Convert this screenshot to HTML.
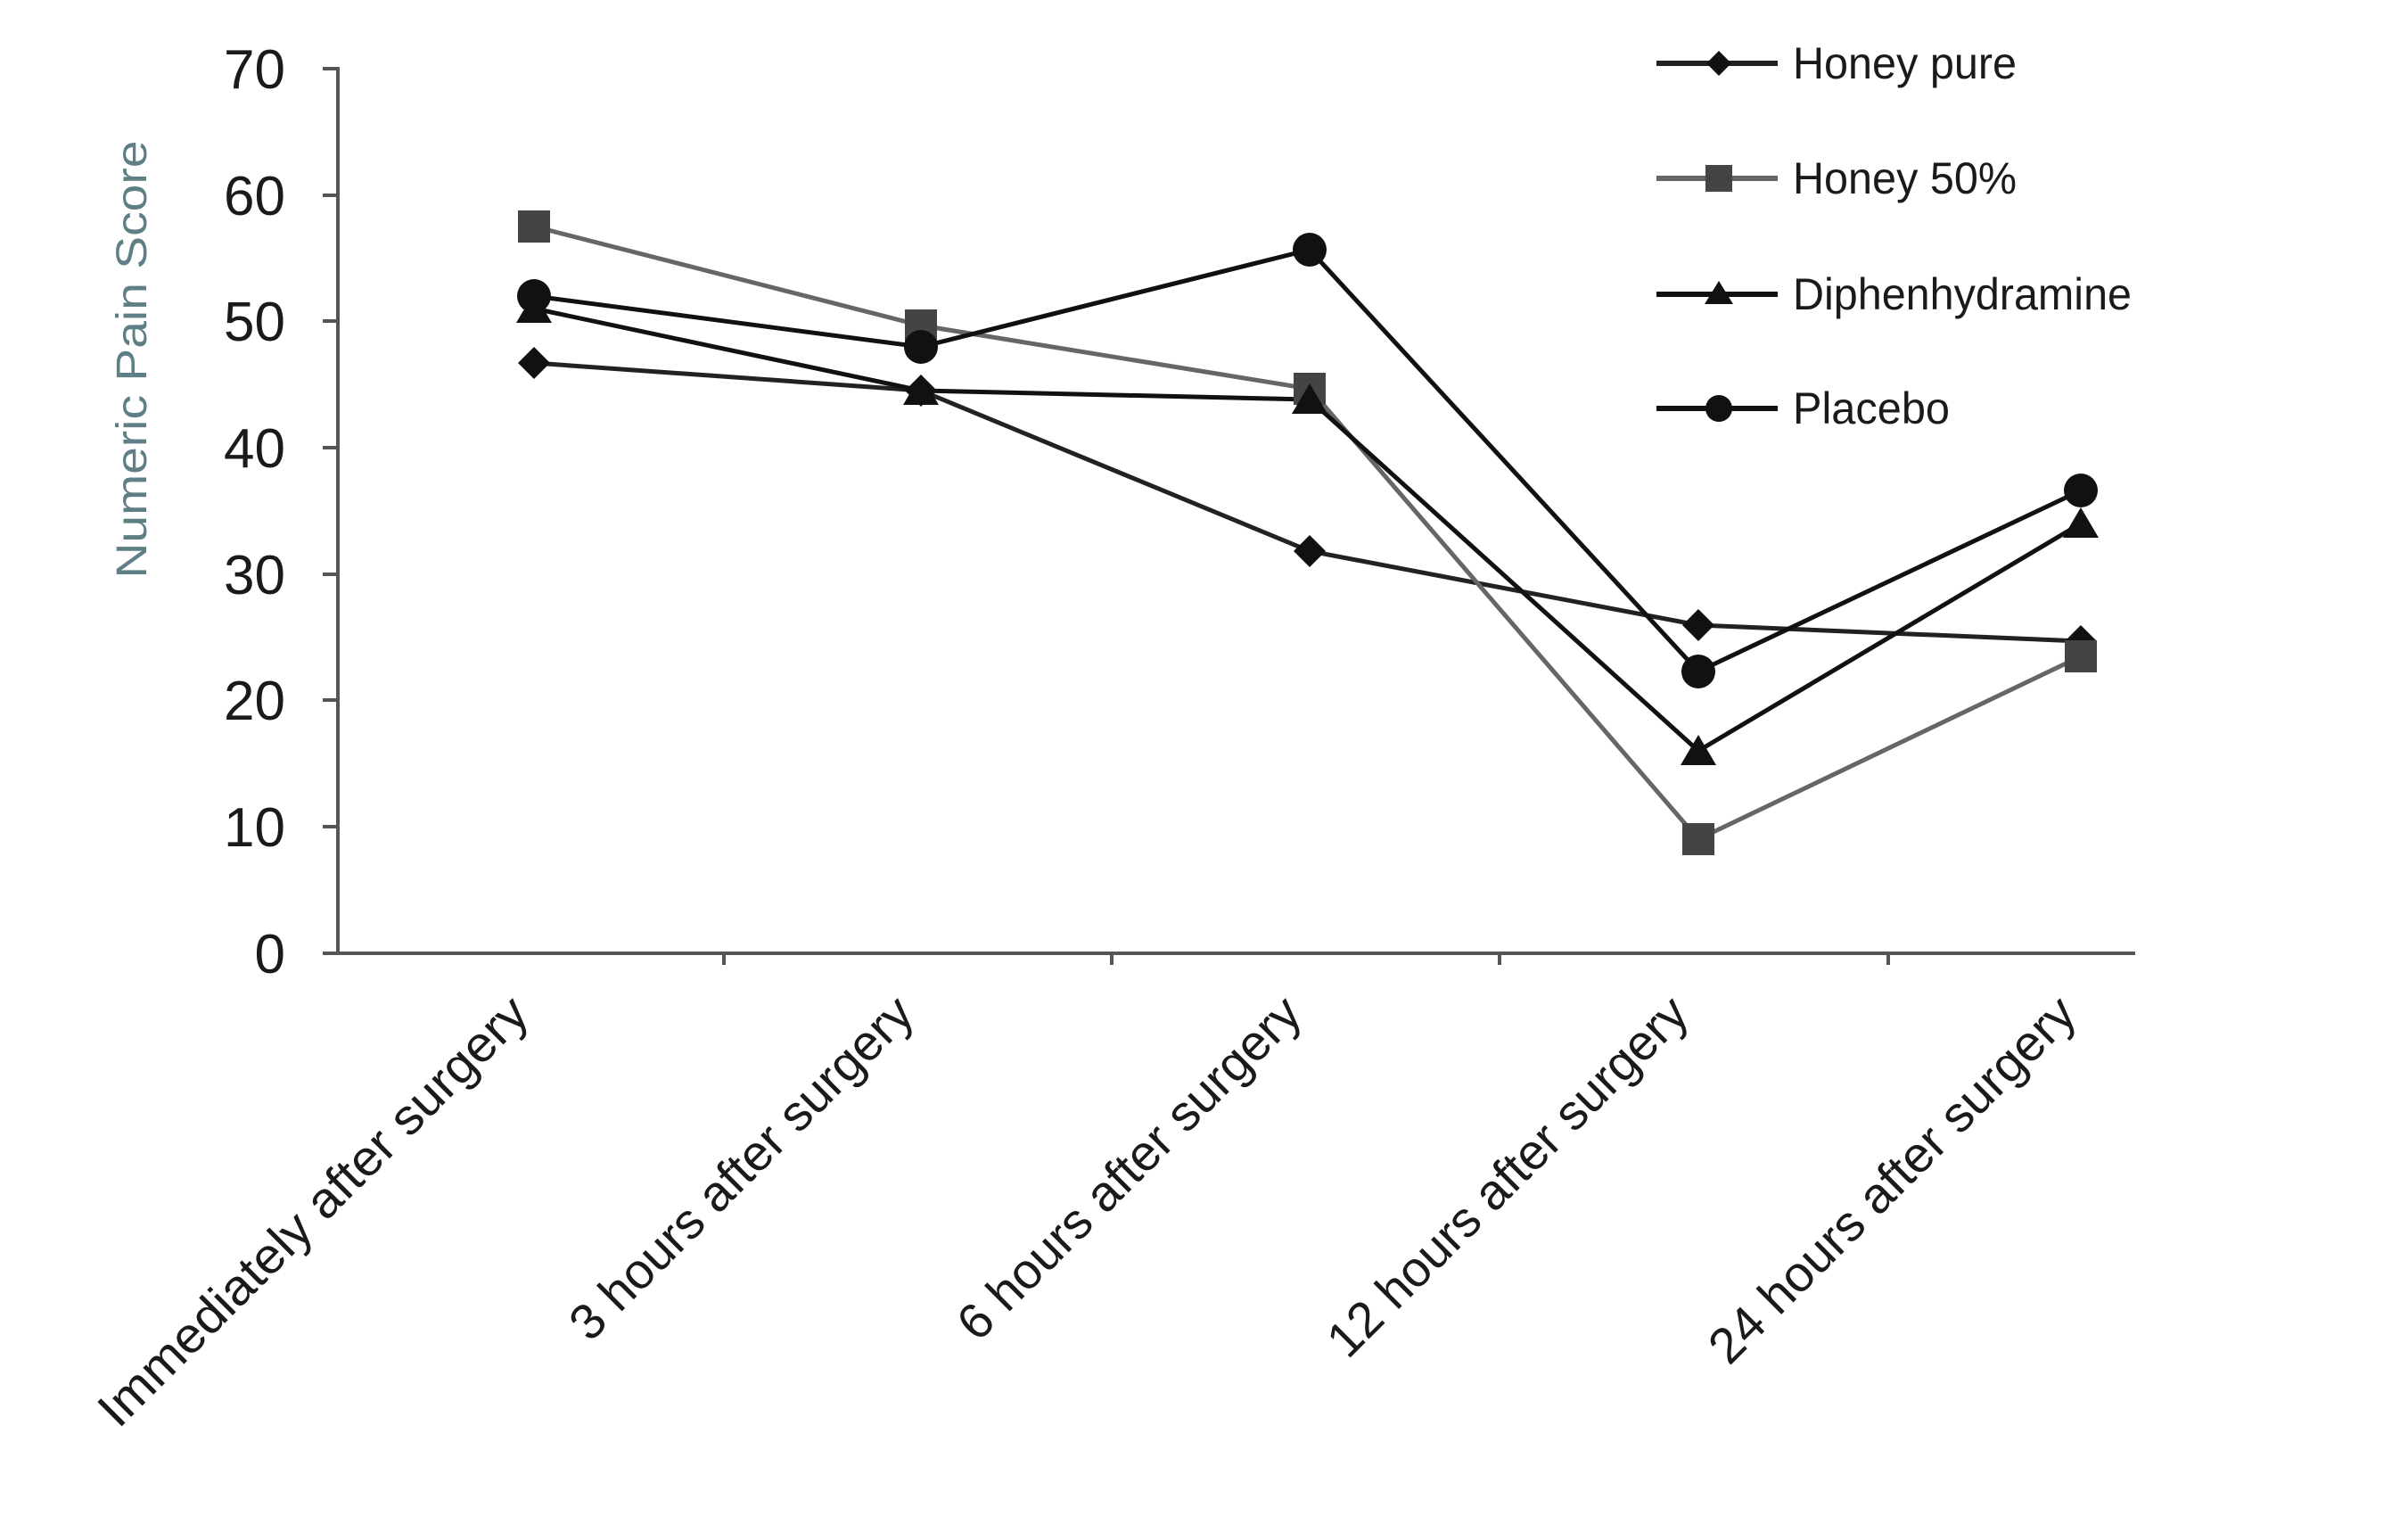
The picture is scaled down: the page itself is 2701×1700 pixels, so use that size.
<!DOCTYPE html>
<html><head><style>html,body{margin:0;padding:0;background:#fff}svg{display:block}</style></head>
<body>
<svg width="2701" height="1700" viewBox="0 0 2701 1700" xmlns="http://www.w3.org/2000/svg" font-family="Liberation Sans, Arial, sans-serif">
<rect width="2701" height="1700" fill="#fff"/>
<g stroke="#555" stroke-width="4" fill="none">
<line x1="379" y1="75" x2="379" y2="1071"/>
<line x1="362" y1="1069" x2="2395" y2="1069"/>
<line x1="362" y1="77" x2="379" y2="77"/>
<line x1="362" y1="219" x2="379" y2="219"/>
<line x1="362" y1="360" x2="379" y2="360"/>
<line x1="362" y1="502" x2="379" y2="502"/>
<line x1="362" y1="644" x2="379" y2="644"/>
<line x1="362" y1="785" x2="379" y2="785"/>
<line x1="362" y1="927" x2="379" y2="927"/>
<line x1="812" y1="1069" x2="812" y2="1082"/>
<line x1="1247" y1="1069" x2="1247" y2="1082"/>
<line x1="1682" y1="1069" x2="1682" y2="1082"/>
<line x1="2118" y1="1069" x2="2118" y2="1082"/>
</g>
<g font-size="62" fill="#1a1a1a" text-anchor="end">
<text x="320" y="99">70</text><text x="320" y="241">60</text><text x="320" y="382">50</text>
<text x="320" y="524">40</text><text x="320" y="666">30</text><text x="320" y="807">20</text>
<text x="320" y="949">10</text><text x="320" y="1091">0</text>
</g>
<text transform="translate(164,403) rotate(-90)" text-anchor="middle" font-size="48" fill="#5f7f86" textLength="491" lengthAdjust="spacingAndGlyphs">Numeric Pain Score</text>
<g font-size="56" fill="#1a1a1a" text-anchor="end">
<text transform="translate(596,1140) rotate(-45)" textLength="655" lengthAdjust="spacingAndGlyphs">Immediately after  surgery</text>
<text transform="translate(1028,1140) rotate(-45)" textLength="518" lengthAdjust="spacingAndGlyphs">3 hours after surgery</text>
<text transform="translate(1463,1140) rotate(-45)" textLength="518" lengthAdjust="spacingAndGlyphs">6 hours after surgery</text>
<text transform="translate(1897,1140) rotate(-45)" textLength="545" lengthAdjust="spacingAndGlyphs">12 hours after surgery</text>
<text transform="translate(2332,1140) rotate(-45)" textLength="555" lengthAdjust="spacingAndGlyphs">24 hours after surgery</text>
</g>
<g fill="none" stroke-width="5">
<polyline stroke="#222" points="599,407 1033,438 1469,618 1905,701 2334,719"/>
<polyline stroke="#666" points="599,254 1033,365 1469,436 1905,941 2334,736"/>
<polyline stroke="#111" points="599,346 1033,438 1469,448 1905,842 2334,587"/>
<polyline stroke="#111" points="599,332 1033,389 1469,280 1905,753 2334,550"/>
</g>
<g fill="#111">
<path d="M599,389 L617,407 L599,425 L581,407Z"/><path d="M1033,420 L1051,438 L1033,456 L1015,438Z"/>
<path d="M1469,600 L1487,618 L1469,636 L1451,618Z"/><path d="M1905,683 L1923,701 L1905,719 L1887,701Z"/>
<path d="M2334,701 L2352,719 L2334,737 L2316,719Z"/>
</g>
<g fill="#444">
<rect x="581" y="236" width="36" height="36"/><rect x="1015" y="347" width="36" height="36"/>
<rect x="1451" y="418" width="36" height="36"/><rect x="1887" y="923" width="36" height="36"/>
<rect x="2316" y="718" width="36" height="36"/>
</g>
<g fill="#111">
<path d="M599,328 L619,362 L579,362Z"/><path d="M1033,420 L1053,454 L1013,454Z"/>
<path d="M1469,430 L1489,464 L1449,464Z"/><path d="M1905,824 L1925,858 L1885,858Z"/>
<path d="M2334,569 L2354,603 L2314,603Z"/>
<circle cx="599" cy="332" r="19"/><circle cx="1033" cy="389" r="19"/><circle cx="1469" cy="280" r="19"/>
<circle cx="1905" cy="753" r="19"/><circle cx="2334" cy="550" r="19"/>
</g>
<g stroke-width="6">
<line x1="1858" y1="71" x2="1994" y2="71" stroke="#222"/>
<line x1="1858" y1="200" x2="1994" y2="200" stroke="#666"/>
<line x1="1858" y1="330" x2="1994" y2="330" stroke="#111"/>
<line x1="1858" y1="458" x2="1994" y2="458" stroke="#111"/>
</g>
<path d="M1928,57 L1942,71 L1928,85 L1914,71Z" fill="#111"/>
<rect x="1913" y="185" width="30" height="30" fill="#444"/>
<path d="M1928,315 L1944,341 L1912,341Z" fill="#111"/>
<circle cx="1928" cy="458" r="15" fill="#111"/>
<g font-size="50" fill="#1a1a1a">
<text x="2011" y="88" textLength="251" lengthAdjust="spacingAndGlyphs">Honey pure</text>
<text x="2011" y="217" textLength="251" lengthAdjust="spacingAndGlyphs">Honey 50%</text>
<text x="2011" y="347" textLength="380" lengthAdjust="spacingAndGlyphs">Diphenhydramine</text>
<text x="2011" y="475" textLength="176" lengthAdjust="spacingAndGlyphs">Placebo</text>
</g>
</svg>
</body></html>
